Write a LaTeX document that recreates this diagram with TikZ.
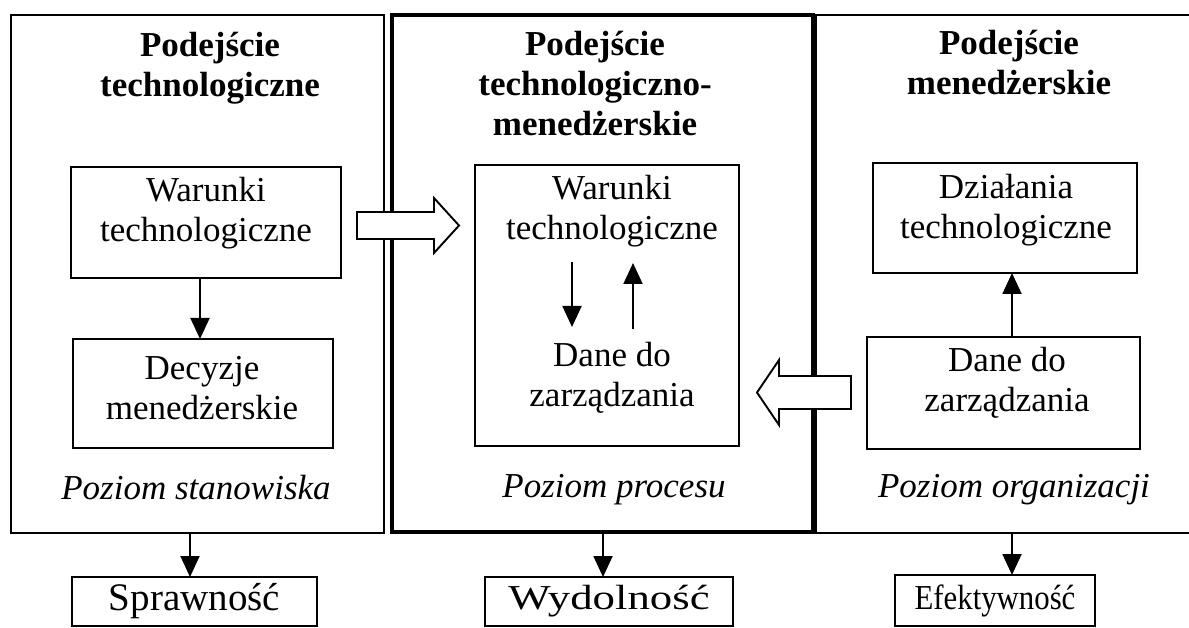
\documentclass[tikz,border=0pt]{standalone}
\usepackage{fontspec}
\setmainfont{Liberation Serif}
\usetikzlibrary{arrows.meta,calc}

\begin{document}
\begin{tikzpicture}[x=1pt,y=-1pt,
  every node/.style={inner sep=0pt, outer sep=0pt},
  txt/.style={font=\fontsize{35}{40}\selectfont, align=center},
  ttl/.style={txt, font=\fontsize{35}{40}\selectfont\bfseries},
  lvl/.style={font=\fontsize{35}{40}\selectfont\itshape, anchor=base},
  panel/.style={draw, line width=1.9pt},
  focus/.style={draw, line width=4.5pt},
  box/.style={draw, line width=1.9pt},
  flow/.style={line width=1.9pt, -{Triangle[width=19pt,length=21pt]}},
  block/.style={draw, line width=1.9pt, fill=white, line join=miter},
]
\useasboundingbox (0,0) rectangle (1189,628);

% three approach panels
\node[panel, minimum width=373pt, minimum height=518pt] (lp) at (197.5,274) {};
\node[panel, minimum width=384pt, minimum height=518pt] (rp) at (1008,274) {};
\node[focus, minimum width=421pt, minimum height=517pt] (mp) at (602.5,273.5) {};

% block arrows between the panels
\draw[block] (357,212) -- (434,212) -- (434,198) -- (459,225.5) -- (434,253)
  -- (434,239) -- (357,239) -- cycle;
\draw[block] (851,376) -- (779,376) -- (779,360) -- (757,392.5) -- (779,425)
  -- (779,409) -- (851,409) -- cycle;

% panel titles
\node[ttl] (lt) at (210,69) {\strut Podejście\\\strut technologiczne};
\node[ttl] (mt) at (595,88) {\strut Podejście\\\strut technologiczno-\\\strut menedżerskie};
\node[ttl] (rt) at (1009,67) {\strut Podejście\\\strut menedżerskie};

% inner boxes
\node[box, minimum width=270pt, minimum height=111pt] (wt1) at (206,222.5) {};
\node[box, minimum width=260pt, minimum height=109pt] (dm1) at (203,393.5) {};
\node[box, minimum width=264pt, minimum height=281pt] (mb) at (607,305.5) {};
\node[box, minimum width=264pt, minimum height=110pt] (dt3) at (1005,218) {};
\node[box, minimum width=273pt, minimum height=112pt] (dz3) at (1003.5,393) {};

% box texts
\node[txt] (lwt) at (206,214) {\strut Warunki\\\strut technologiczne};
\node[txt] (ldm) at (202,391) {\strut Decyzje\\\strut menedżerskie};
\node[txt] (mwt) at (612,212) {\strut Warunki\\\strut technologiczne};
\node[txt] (mdz) at (612,378.5) {\strut Dane do\\\strut zarządzania};
\node[txt] (rdt) at (1006,211) {\strut Działania\\\strut technologiczne};
\node[txt] (rdz) at (1007,383.5) {\strut Dane do\\\strut zarządzania};

% level labels
\node[lvl] (ls) at (196,499) {Poziom stanowiska};
\node[lvl] (ms) at (614,497) {Poziom procesu};
\node[lvl] (rs) at (1014,497) {Poziom organizacji};

% outcome boxes
\node[box, font=\fontsize{39}{44}\selectfont, minimum width=245pt, minimum height=49pt]
  (spr) at (194.5,601.5) {Sprawność};
\node[box, txt, minimum width=248pt, minimum height=49pt]
  (wyd) at (609,601.5) {\scalebox{1.28}[1]{Wydolność}};
\node[box, txt, minimum width=200pt, minimum height=51pt]
  (efk) at (995,600.5) {\scalebox{0.88}[1]{Efektywność}};

% arrow columns
\coordinate (xl) at (200,0);
\coordinate (xr) at (1012,0);
\coordinate (xdn) at (572,0);
\coordinate (xup) at (633,0);
\coordinate (bl) at (190,0);
\coordinate (bm) at (603,0);
\coordinate (br) at (1012,0);

% arrows inside the panels
\draw[flow] (xl |- wt1.south) -- (xl |- dm1.north);
\draw[flow] (xr |- dz3.north) -- (xr |- dt3.south);
\draw[flow, shorten <=10pt, shorten >=11.5pt] (xdn |- mwt.south) -- (xdn |- mdz.north);
\draw[flow, shorten <=9.5pt, shorten >=11pt] (xup |- mdz.north) -- (xup |- mwt.south);

% arrows to the outcomes
\draw[flow] (bl |- lp.south) -- (bl |- spr.north);
\draw[flow] (bm |- mp.south) -- (bm |- wyd.north);
\draw[flow] (br |- rp.south) -- (br |- efk.north);
\end{tikzpicture}
\end{document}
